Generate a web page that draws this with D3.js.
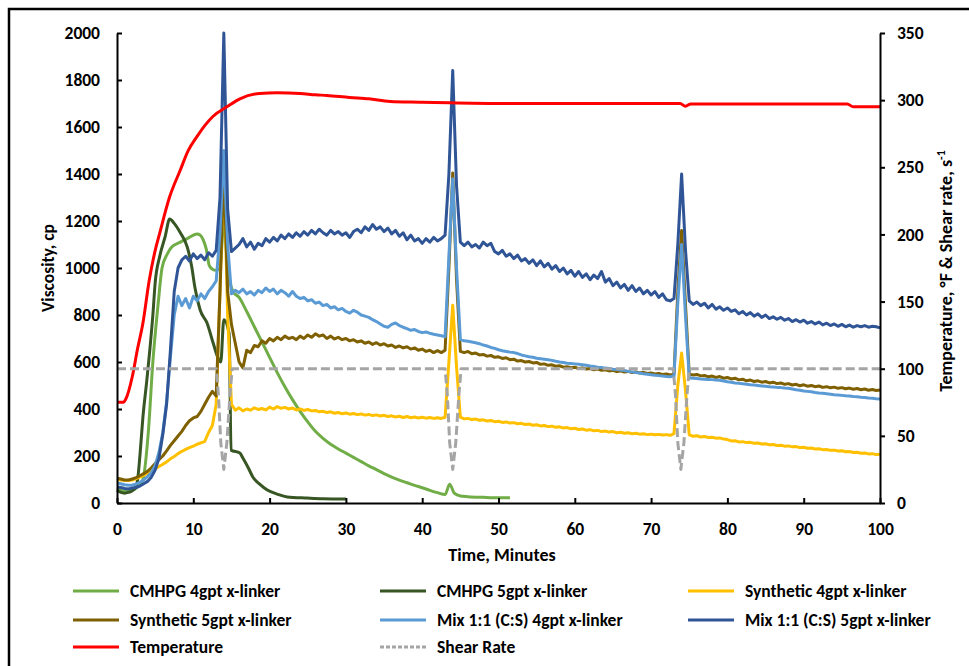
<!DOCTYPE html>
<html>
<head>
<meta charset="utf-8">
<script src="https://cdn.jsdelivr.net/npm/d3@7"></script>
<style>
  body { margin: 0; background: #fff; }
  text { font-family: Carlito, Lato, "Open Sans", sans-serif; fill: #000; }
</style>
</head>
<body>
<svg id="chart" width="969" height="666"></svg>
<script>
// Rheometer log: viscosity (cp) vs time (min); noisy channels sampled every 0.5 min from t = 0
const STEP = 0.5;

// Mix 1:1 (C:S) 5gpt x-linker
const mix5Visc = [
  68,66,62,60,64,66,72,82,92,110, 140,190,290,420,650,900,1000,1035,1050,1030,
  1060,1040,1055,1035,1065,1050,1075,1300,2000,1250, 1070,1085,1100,1125,1090,1110,1080,1105,1095,1125,
  1110,1130,1115,1140,1125,1145,1130,1150,1135,1155, 1140,1160,1145,1165,1150,1140,1160,1145,1155,1140,
  1150,1130,1155,1165,1150,1175,1160,1185,1165,1175, 1155,1170,1145,1160,1135,1150,1120,1140,1115,1125,
  1105,1125,1110,1130,1115,1125,1140,1400,1840,1350, 1110,1095,1110,1090,1100,1085,1110,1095,1105,1070,
  1060,1075,1050,1060,1040,1055,1030,1040,1020,1035, 1010,1030,1005,1020,995,1010,985,1000,975,990,
  965,985,960,975,950,970,955,985,940,955, 925,940,915,930,905,925,900,915,890,905,
  885,900,875,890,865,860,870,1100,1400,1080, 860,845,855,840,850,830,845,825,835,820,
  830,815,822,805,815,800,810,795,805,790, 800,785,792,782,790,778,785,772,780,770,
  778,765,772,762,770,758,765,755,762,752, 760,750,757,748,755,750,755,748,752,750,
  745
];

// Mix 1:1 (C:S) 4gpt x-linker
const mix4Visc = [
  85,82,78,76,77,80,88,98,112,128, 160,215,300,430,620,800,880,840,870,830,
  880,860,890,870,900,920,945,1150,1500,1100, 890,905,895,910,890,900,885,905,895,915,
  900,910,890,905,895,880,900,880,870,875, 860,865,850,855,840,845,830,835,822,828,
  815,808,820,812,800,795,790,780,772,762, 752,748,760,766,755,748,742,735,738,730,
  725,728,722,718,715,712,708,1050,1380,1000, 695,690,688,685,682,678,672,668,662,658,
  652,648,645,642,640,636,630,626,622,620, 616,614,612,610,607,603,600,598,595,594,
  592,590,588,586,583,581,578,577,574,572, 569,568,566,564,560,558,555,553,550,548,
  546,544,542,540,538,537,540,850,1100,800, 532,531,530,528,527,526,525,523,522,519,
  516,514,511,509,507,505,503,502,500,498, 497,495,494,492,491,489,488,485,482,480,
  477,475,473,470,468,467,465,463,461,460, 458,456,455,453,452,450,449,447,446,444,
  443
];

// Synthetic 5gpt x-linker
const syn5Visc = [
  106,102,98,98,102,108,116,125,135,150, 168,185,200,222,245,265,285,305,330,350,
  362,368,390,420,450,475,455,900,1440,900, 760,680,600,575,650,640,670,665,690,680,
  700,690,705,695,710,700,705,695,710,700, 715,705,720,710,715,700,710,698,705,695,
  700,690,695,685,690,680,685,675,682,672, 678,668,672,662,668,660,665,655,660,650,
  655,645,650,640,648,640,650,1000,1404,950, 645,640,645,635,638,630,632,625,628,620,
  622,615,618,610,612,604,606,600,602,596, 598,590,592,586,588,582,584,578,580,576,
  578,572,575,570,572,567,570,565,567,562, 565,559,562,557,560,555,558,553,556,551,
  553,549,551,547,549,545,548,900,1160,850, 548,545,547,541,543,537,540,534,538,531,
  534,528,531,524,527,520,523,517,520,514, 517,511,514,508,511,505,508,502,505,499,
  503,497,500,495,498,492,495,490,493,488, 491,486,489,484,487,482,485,480,483,479,
  481
];

// Synthetic 4gpt x-linker
const syn4Visc = [
  100,98,96,96,98,104,110,118,126,134, 145,155,165,175,188,198,210,220,228,236,
  242,250,256,262,300,330,420,900,1440,800, 420,395,405,392,400,395,405,398,402,396,
  408,400,410,403,407,400,404,396,400,394, 398,392,394,388,390,385,388,382,385,380,
  383,378,381,376,379,374,377,372,375,370, 373,368,371,366,369,364,368,363,366,362,
  365,361,364,360,363,360,365,600,842,580, 365,358,360,355,357,352,354,349,351,346,
  348,343,345,340,342,337,339,334,336,331, 333,328,330,325,327,322,324,319,321,316,
  318,313,315,310,312,307,309,304,306,302, 304,299,301,297,299,295,297,293,295,291,
  293,290,292,289,291,288,295,500,638,480, 290,284,286,281,283,279,280,276,277,272,
  270,264,265,260,261,257,258,254,255,251, 252,248,249,245,246,242,243,239,240,236,
  237,233,234,230,231,227,228,224,225,221, 222,218,219,215,216,212,213,209,210,206,
  207
];

// CMHPG runs (logged until the fluid broke)
const cmhpg4Time = [0,0.5,1,1.5,2,2.5,3,3.4,4.1,4.7, 5.4,5.9,6.6,7.2,8.3,9.2,10.5,10.9,11.3,11.7,
  12.1,12.5,13.0,13.5,14.0,14.5,15.2,16,17,18, 19,20,21,22,23,24,25,26,27,28,
  29,30,31,32,33,34,35,36,37,38, 39,40,41,42,43,43.6,44.2,45,46,48, 50,51.5];
const cmhpg4Visc = [64,55,50,50,55,62,80,100,300,600, 850,1000,1060,1090,1110,1125,1145,1140,1120,1080,
  1010,995,990,1000,1200,1000,900,875,815,750, 685,620,555,495,440,390,345,305,275,250,
  230,212,194,176,158,142,125,110,97,86, 75,65,54,44,36,80,42,30,27,24, 22,22];

const cmhpg5Time = [0,0.5,1,1.5,2,2.4,2.7,3.0,3.4,3.9, 4.3,4.7,5.0,5.6,6.3,6.9,7.5,8.3,9.2,9.8,
  10.2,10.9,11.8,12.6,13.2,13.6,14.0,14.7,14.95,16.1, 16.5,17.2,17.8,18.7,19.7,21,22.3,24.9,27,30];
const cmhpg5Visc = [55,45,42,45,52,65,98,200,366,520, 651,800,936,1050,1132,1208,1190,1150,1090,1004,
  919,821,766,681,621,600,780,720,225,213, 191,150,111,80,55,38,26,21,18,17];

// Secondary axis channels
const tempTime = [0,0.8,1.2,2,2.7,3.4,4.2,5,5.6,6.9, 8.3,9.3,10.5,11.5,12.6,14.4,16.1,18.7,21,24,
  26,27.5,30.5,33,35.8,40,43.6,50,60,67, 73.8,74.5,75.2,95.7,96.5,100];
const tempF = [75,75,78,94,115,134,165,188,201,228, 248,262,273,281,288,295,301,305,305.5,305,
  304,303.5,302,301,299,298.5,298,297.5,297.5,297.5, 297.5,295.5,297.2,297.2,295,295];

const shearTime = [0,13.0,13.3,13.6,14.0,14.4,14.8,15.1, 43.0,43.3,43.6,44.0,44.4,44.8,45.1,
  72.9,73.2,73.5,73.9,74.3,74.7,75.0,100];
const shearRate = [100,100,80,45,25,45,80,100, 100,80,45,25,45,80,100, 100,80,45,25,45,80,100,100];

// Axis ticks
const timeTicks = [0,10,20,30,40,50,60,70,80,90,100];
const viscTicks = [0,200,400,600,800,1000,1200,1400,1600,1800,2000];
const rightTicks = [0,50,100,150,200,250,300,350];

const svg = d3.select("#chart");

// Outer frame
svg.append("rect")
  .attr("x", 9).attr("y", 9).attr("width", 990).attr("height", 690)
  .attr("fill", "none").attr("stroke", "#000").attr("stroke-width", 2.5);

const x = d3.scaleLinear().domain([0, 100]).range([117, 880]);
const yL = d3.scaleLinear().domain([0, 2000]).range([503, 33]);
const yR = d3.scaleLinear().domain([0, 350]).range([503, 33]);

const sampled = vals => vals.map((v, i) => [i * STEP, v]);
const paired = (ts, vs) => ts.map((t, i) => [t, vs[i]]);

const series = [
  { name: "CMHPG 4gpt x-linker", color: "#70AD47", data: paired(cmhpg4Time, cmhpg4Visc), y: yL, curve: d3.curveMonotoneX },
  { name: "CMHPG 5gpt x-linker", color: "#375623", data: paired(cmhpg5Time, cmhpg5Visc), y: yL, curve: d3.curveMonotoneX },
  { name: "Synthetic 4gpt x-linker", color: "#FFC000", data: sampled(syn4Visc), y: yL, curve: d3.curveLinear },
  { name: "Synthetic 5gpt x-linker", color: "#7F6000", data: sampled(syn5Visc), y: yL, curve: d3.curveLinear },
  { name: "Mix 1:1 (C:S) 4gpt x-linker", color: "#5B9BD5", data: sampled(mix4Visc), y: yL, curve: d3.curveLinear },
  { name: "Mix 1:1 (C:S) 5gpt x-linker", color: "#2F5597", data: sampled(mix5Visc), y: yL, curve: d3.curveLinear },
  { name: "Temperature", color: "#FF0000", data: paired(tempTime, tempF), y: yR, curve: d3.curveMonotoneX },
  { name: "Shear Rate", color: "#A5A5A5", data: paired(shearTime, shearRate), y: yR, curve: d3.curveLinear, dash: "9,4" }
];

const plot = svg.append("g");
series.forEach(s => {
  const line = d3.line().x(d => x(d[0])).y(d => s.y(d[1])).curve(s.curve);
  plot.append("path")
    .datum(s.data)
    .attr("d", line)
    .attr("fill", "none")
    .attr("stroke", s.color)
    .attr("stroke-width", 3)
    .attr("stroke-linejoin", "round")
    .attr("stroke-dasharray", s.dash || null);
});

// Axes
const fmt = d3.format("d");
function styleAxis(g) {
  g.select(".domain").attr("stroke", "#000").attr("stroke-width", 2);
  g.selectAll(".tick line").attr("stroke", "#000").attr("stroke-width", 2);
  g.selectAll(".tick text")
    .attr("font-size", 17.5).attr("font-weight", "bold")
    .style("font-family", "Carlito, Lato, sans-serif");
}

svg.append("g").attr("transform", "translate(0,503)")
  .call(d3.axisBottom(x).tickValues(timeTicks).tickFormat(fmt).tickSize(-5).tickSizeOuter(0).tickPadding(20))
  .call(styleAxis);

svg.append("g").attr("transform", "translate(117,0)")
  .call(d3.axisLeft(yL).tickValues(viscTicks).tickFormat(fmt).tickSize(-5).tickSizeOuter(0).tickPadding(17))
  .call(styleAxis);

svg.append("g").attr("transform", "translate(880,0)")
  .call(d3.axisRight(yR).tickValues(rightTicks).tickFormat(fmt).tickSize(5).tickSizeOuter(0).tickPadding(12))
  .call(styleAxis);

// Axis titles
svg.append("text")
  .attr("x", 502).attr("y", 561)
  .attr("text-anchor", "middle")
  .attr("font-size", 18).attr("font-weight", "bold")
  .text("Time, Minutes");

svg.append("text")
  .attr("transform", "translate(54,268) rotate(-90)")
  .attr("text-anchor", "middle")
  .attr("font-size", 17.5).attr("font-weight", "bold")
  .text("Viscosity, cp");

const rt = svg.append("text")
  .attr("transform", "translate(952,271) rotate(-90)")
  .attr("text-anchor", "middle")
  .attr("font-size", 18).attr("font-weight", "bold");
rt.append("tspan").text("Temperature, °F & Shear rate, s");
rt.append("tspan").attr("dy", -7).attr("font-size", 12).text("-1");

// Legend
const legendCols = [73, 380, 688];
const legendRows = [591, 620, 647];
const legend = svg.append("g");
series.forEach((s, i) => {
  const cx = legendCols[i % 3], cy = legendRows[Math.floor(i / 3)];
  legend.append("line")
    .attr("x1", cx).attr("x2", cx + 46).attr("y1", cy).attr("y2", cy)
    .attr("stroke", s.color).attr("stroke-width", 3)
    .attr("stroke-dasharray", s.dash ? "4,2" : null);
  legend.append("text")
    .attr("x", cx + 57).attr("y", cy).attr("dy", "0.35em")
    .attr("font-size", 17.5).attr("font-weight", 600)
    .text(s.name);
});
</script>
</body>
</html>
